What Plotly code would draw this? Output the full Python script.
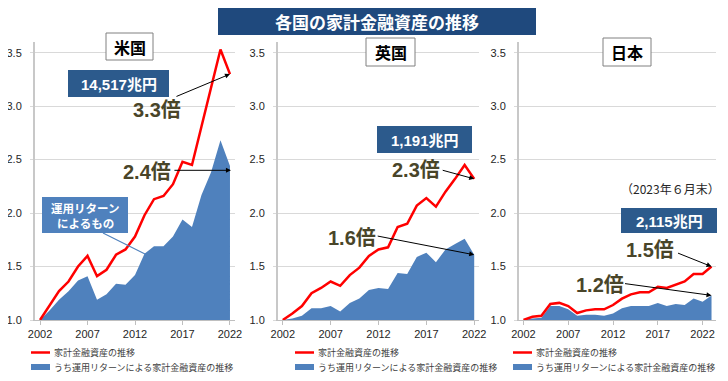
import plotly.graph_objects as go

# ---------------- data ----------------
years_us = list(range(2002, 2023))
us_total = [1.00, 1.13, 1.27, 1.36, 1.50, 1.60, 1.41, 1.47, 1.61, 1.66, 1.78, 1.98,
            2.13, 2.16, 2.27, 2.48, 2.45, 2.81, 3.17, 3.53, 3.30]
us_return = [1.00, 1.09, 1.19, 1.27, 1.37, 1.41, 1.19, 1.24, 1.34, 1.33, 1.42, 1.62,
             1.69, 1.69, 1.78, 1.94, 1.87, 2.17, 2.38, 2.68, 2.44]

years_uk = list(range(2002, 2023))
uk_total = [1.00, 1.06, 1.13, 1.25, 1.30, 1.36, 1.32, 1.42, 1.49, 1.60, 1.66, 1.68,
            1.87, 1.90, 2.07, 2.14, 2.06, 2.20, 2.32, 2.45, 2.32]
uk_return = [1.00, 1.015, 1.04, 1.11, 1.11, 1.13, 1.08, 1.16, 1.20, 1.28, 1.30, 1.29,
             1.44, 1.43, 1.59, 1.63, 1.54, 1.66, 1.71, 1.76, 1.61]

years_jp = list(range(2002, 2024))
jp_total = [1.00, 1.03, 1.04, 1.15, 1.16, 1.13, 1.065, 1.09, 1.10, 1.10, 1.14, 1.20,
            1.24, 1.26, 1.26, 1.31, 1.30, 1.33, 1.36, 1.43, 1.43, 1.50]
jp_return = [1.00, 1.015, 1.02, 1.13, 1.13, 1.10, 1.04, 1.05, 1.05, 1.04, 1.06, 1.11,
             1.13, 1.13, 1.13, 1.16, 1.13, 1.15, 1.14, 1.20, 1.17, 1.23]

x_ticks = [2002, 2007, 2012, 2017, 2022]
y_ticks = [1.0, 1.5, 2.0, 2.5, 3.0, 3.5]

title_text = "各国の家計金融資産の推移"
panel_names = ["米国", "英国", "日本"]
amount_labels = ["14,517兆円", "1,191兆円", "2,115兆円"]
name_total = "家計金融資産の推移"
name_return = "うち運用リターンによる家計金融資産の推移"

# ---------------- styling ----------------
# the page body has an 8px default margin; the figure is sized so that it
# fills the remaining 720x373 area of the 728x381 window
OFF = 8
W, H = 728 - OFF, 381 - OFF
RED = "#FF0000"
BLUE = "#4F81BD"
DARKBOX = "#2C5A8C"
TITLEBOX = "#1F497D"
OLIVE = "#494529"
FONT = "Liberation Sans, Arial, Noto Sans CJK JP, sans-serif"
JFONT = "Noto Sans CJK JP, Liberation Sans, sans-serif"


def px(x):
    return (x - OFF) / W


def py(y):
    return 1 - (y - OFF) / H


fig = go.Figure()

panels = [
    dict(xs=years_us, tot=us_total, ret=us_return, ax="x", ay="y",
         dom=(35, 235), rng=[2001.47, 2022.53], leg_x=31),
    dict(xs=years_uk, tot=uk_total, ret=uk_return, ax="x2", ay="y2",
         dom=(278, 479), rng=[2001.5, 2022.5], leg_x=295),
    dict(xs=years_jp, tot=jp_total, ret=jp_return, ax="x3", ay="y3",
         dom=(519, 716), rng=[2001.5, 2023.5], leg_x=513),
]

for p in panels:
    fig.add_trace(go.Scatter(
        x=p["xs"], y=p["ret"], mode="lines", fill="tozeroy",
        fillcolor=BLUE, line=dict(width=0, color=BLUE),
        name=name_return, xaxis=p["ax"], yaxis=p["ay"],
        showlegend=False, hoverinfo="skip"))
    fig.add_trace(go.Scatter(
        x=p["xs"], y=p["tot"], mode="lines",
        line=dict(width=2.5, color=RED),
        name=name_total, xaxis=p["ax"], yaxis=p["ay"],
        showlegend=False, hoverinfo="skip"))

y_dom = [py(320), py(42)]
layout_axes = {}
for i, p in enumerate(panels):
    sfx = "" if i == 0 else str(i + 1)
    layout_axes["xaxis" + sfx] = dict(
        domain=[px(p["dom"][0]), px(p["dom"][1])], range=p["rng"],
        tickvals=x_ticks, showgrid=False, zeroline=False,
        showline=True, linecolor="#BFBFBF", linewidth=1,
        ticks="outside", ticklen=4, tickcolor="#BFBFBF",
        tickfont=dict(family=FONT, size=11, color="#262626"),
        anchor="y" + sfx, fixedrange=True, automargin=False)
    layout_axes["yaxis" + sfx] = dict(
        domain=y_dom, range=[1.0, 3.6], tickvals=y_ticks, tickformat=".1f",
        showgrid=True, gridcolor="#D9D9D9", gridwidth=1, zeroline=False,
        showline=True, linecolor="#C8C8C8", linewidth=2,
        ticks="outside", ticklen=3, tickcolor="#D9D9D9",
        ticklabelstandoff=6,
        tickfont=dict(family=FONT, size=11, color="#262626"),
        anchor="x" + sfx, fixedrange=True, automargin=False)

fig.update_layout(
    width=W, height=H, margin=dict(l=0, r=0, t=0, b=0, autoexpand=False),
    paper_bgcolor="white", plot_bgcolor="white",
    showlegend=False,
    **layout_axes)

shapes = []
annotations = []


def box(x0, y0, x1, y1, fill, line_color=None, line_width=0):
    shapes.append(dict(type="rect", xref="paper", yref="paper",
                       x0=px(x0), x1=px(x1), y0=py(y1), y1=py(y0),
                       fillcolor=fill,
                       line=dict(color=line_color or fill, width=line_width),
                       layer="above"))


def text(x, y, t, size, color, bold=True, family=JFONT, anchor="center"):
    annotations.append(dict(
        xref="paper", yref="paper", x=px(x), y=py(y),
        text=("<b>%s</b>" % t) if bold else t,
        showarrow=False, xanchor=anchor, yanchor="middle",
        font=dict(family=family, size=size, color=color)))


def arrow(xref, yref, x, y, dx, dy):
    annotations.append(dict(
        xref=xref, yref=yref, x=x, y=y, ax=dx, ay=dy, text="",
        showarrow=True, arrowhead=2, arrowsize=1, arrowwidth=1,
        arrowcolor="#000000", standoff=0, startstandoff=0))


# title
box(218, 7, 536, 35, TITLEBOX)
text(377, 21, title_text, 17, "white")

# panel name boxes
box(106, 33, 153, 60, "white", "#808080", 1)
text(129.5, 47, panel_names[0], 16, "black")
box(366, 38, 415, 66, "white", "#808080", 1)
text(390.5, 52.5, panel_names[1], 16, "black")
box(603, 38, 651, 66, "white", "#808080", 1)
text(627, 52.5, panel_names[2], 16, "black")

# amount boxes
box(68, 70, 169, 97, DARKBOX)
text(118.5, 84, amount_labels[0], 15, "white", family=FONT)
box(377, 126, 472, 153, DARKBOX)
text(424.5, 140, amount_labels[1], 15, "white", family=FONT)
box(621, 208, 717, 233, DARKBOX)
text(669, 221, amount_labels[2], 15, "white", family=FONT)

# multiples
text(157, 110, "3.3倍", 20, OLIVE, family=FONT)
text(147, 172, "2.4倍", 20, OLIVE, family=FONT)
text(416, 170, "2.3倍", 20, OLIVE, family=FONT)
text(352, 238, "1.6倍", 20, OLIVE, family=FONT)
text(650, 250, "1.5倍", 20, OLIVE, family=FONT)
text(600, 285, "1.2倍", 20, OLIVE, family=FONT)
text(670, 188, "（2023年６月末）", 12, "#262626", bold=False)

# arrows pointing at the last data points
arrow("x", "y", years_us[-1], us_total[-1], -55, 23)
arrow("x", "y", years_us[-1] + 0.1, 2.40, -58, 0)
arrow("x2", "y2", years_uk[-1], uk_total[-1], -33, -9)
arrow("x2", "y2", years_uk[-1], uk_return[-1], -98, -19)
arrow("x3", "y3", years_jp[-1], jp_total[-1], -35, -14)
arrow("x3", "y3", years_jp[-1], jp_return[-1], -88, -12)

# callout for return area
box(42, 197, 128, 233, BLUE)
text(85, 208, "運用リターン", 11.5, "white")
text(85, 223, "によるもの", 11.5, "white")
shapes.append(dict(type="line", xref="paper", yref="paper",
                   x0=px(103), y0=py(233), x1=px(147), y1=py(255),
                   line=dict(color=BLUE, width=1.2), layer="above"))

# legends (one per panel)
for p in panels:
    lx = p["leg_x"]
    shapes.append(dict(type="line", xref="paper", yref="paper",
                       x0=px(lx), x1=px(lx + 19), y0=py(352.5), y1=py(352.5),
                       line=dict(color=RED, width=2.5), layer="above"))
    shapes.append(dict(type="rect", xref="paper", yref="paper",
                       x0=px(lx), x1=px(lx + 19), y0=py(370), y1=py(364),
                       fillcolor=BLUE, line=dict(width=0), layer="above"))
    text(lx + 21, 352.5, name_total, 9, "#404040", bold=False, anchor="left")
    text(lx + 21, 367, name_return, 9, "#404040", bold=False, anchor="left")

fig.update_layout(shapes=shapes, annotations=annotations)

fig.write_html("out.html")
